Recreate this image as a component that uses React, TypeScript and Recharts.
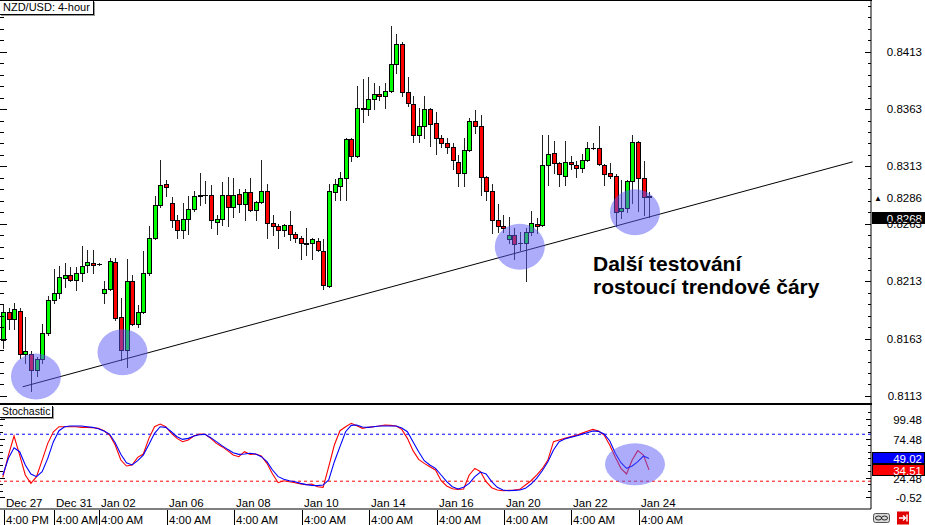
import React from "react";
import { ComposedChart, Bar, Line, XAxis, YAxis, ReferenceLine, ReferenceDot } from "recharts";

// NZD/USD 4-hour candles, Dec 27 4PM .. Jan 24
const opens = [
  0.8162, 0.8186, 0.818, 0.8187, 0.815, 0.815, 0.8136, 0.8145, 0.8168, 0.8197,
  0.8203, 0.8216, 0.8218, 0.8214, 0.822, 0.8227, 0.8229, 0.8228, 0.8203, 0.8206,
  0.823, 0.8182, 0.8153, 0.8213, 0.8176, 0.8186, 0.822, 0.8251, 0.8279, 0.8298,
  0.8281, 0.8266, 0.8258, 0.8267, 0.8276, 0.8287, 0.8288, 0.8288, 0.8265, 0.8267,
  0.8288, 0.8278, 0.8289, 0.828, 0.8291, 0.8275, 0.8282, 0.8292, 0.8264, 0.8261,
  0.8258, 0.8262, 0.8254, 0.8251, 0.8246, 0.8246, 0.8248, 0.8239, 0.8209, 0.8291,
  0.8296, 0.8303, 0.8337, 0.8322, 0.8364, 0.8363, 0.8372, 0.8376, 0.8374, 0.8379,
  0.8402, 0.842, 0.8378, 0.8367, 0.834, 0.8348, 0.8363, 0.8351, 0.8338, 0.8333,
  0.833, 0.8317, 0.8307, 0.8327, 0.8353, 0.8348, 0.8304, 0.8292, 0.8266, 0.8261,
  0.825, 0.8253, 0.8246, 0.8246, 0.8256, 0.8263, 0.8262, 0.8314, 0.8325, 0.8316,
  0.8305, 0.8317, 0.8314, 0.8312, 0.8319, 0.8329, 0.8329, 0.8314, 0.8307, 0.8305,
  0.8274, 0.8277, 0.83, 0.8334, 0.8303, 0.8287,
];
const highs = [
  0.8192, 0.819, 0.8194, 0.819, 0.8182, 0.8152, 0.8147, 0.8176, 0.82, 0.8224,
  0.8226, 0.8229, 0.8225, 0.8225, 0.8244, 0.824, 0.824, 0.8229, 0.8213, 0.8233,
  0.8233, 0.8198, 0.8232, 0.8218, 0.8192, 0.8239, 0.8261, 0.8287, 0.8319, 0.8301,
  0.8286, 0.8271, 0.8281, 0.8287, 0.8292, 0.8307, 0.83, 0.8297, 0.8271, 0.8299,
  0.8304, 0.8303, 0.8293, 0.8293, 0.8303, 0.8283, 0.8319, 0.8298, 0.8271, 0.8263,
  0.8263, 0.8274, 0.8256, 0.8252, 0.8259, 0.8251, 0.8251, 0.825, 0.8298, 0.8302,
  0.8308, 0.8338, 0.8338, 0.8383, 0.8389, 0.8391, 0.8386, 0.8383, 0.8386, 0.8435,
  0.8428, 0.8421, 0.8391, 0.8374, 0.8364, 0.8374, 0.8364, 0.836, 0.834, 0.8338,
  0.8333, 0.8323, 0.8338, 0.8355, 0.8362, 0.8358, 0.8305, 0.8298, 0.828, 0.8271,
  0.8269, 0.8259, 0.8256, 0.8259, 0.8274, 0.8268, 0.834, 0.834, 0.8335, 0.8317,
  0.8335, 0.8322, 0.8318, 0.8324, 0.8334, 0.8333, 0.8348, 0.8315, 0.8316, 0.8306,
  0.8301, 0.8301, 0.834, 0.8335, 0.8318, 0.8291,
];
const lows = [
  0.8155, 0.8171, 0.8171, 0.8146, 0.8142, 0.8117, 0.813, 0.8142, 0.8166, 0.8194,
  0.8198, 0.8208, 0.8213, 0.8205, 0.8213, 0.8221, 0.822, 0.8227, 0.8194, 0.8205,
  0.8179, 0.8144, 0.8138, 0.8175, 0.8173, 0.8185, 0.8218, 0.825, 0.8278, 0.8287,
  0.826, 0.8251, 0.8251, 0.8254, 0.8274, 0.8279, 0.8281, 0.8259, 0.8254, 0.8262,
  0.8261, 0.8269, 0.8273, 0.8266, 0.8274, 0.8266, 0.8281, 0.8251, 0.8253, 0.8242,
  0.8252, 0.8249, 0.8247, 0.8232, 0.8236, 0.8232, 0.8239, 0.8206, 0.8208, 0.8284,
  0.8284, 0.8284, 0.8318, 0.8321, 0.8352, 0.8358, 0.8363, 0.8371, 0.8364, 0.8378,
  0.8394, 0.8374, 0.8366, 0.8334, 0.8334, 0.8338, 0.8331, 0.8324, 0.833, 0.8325,
  0.8311, 0.8296, 0.8296, 0.8326, 0.8342, 0.8288, 0.8284, 0.8255, 0.8256, 0.8256,
  0.8246, 0.8232, 0.824, 0.8213, 0.8253, 0.8255, 0.8261, 0.8297, 0.8307, 0.8296,
  0.8297, 0.8311, 0.8304, 0.8308, 0.8318, 0.8328, 0.8314, 0.8297, 0.8303, 0.8261,
  0.8268, 0.8273, 0.8281, 0.8274, 0.8271, 0.8269,
];
const closes = [
  0.8186, 0.818, 0.8189, 0.815, 0.8152, 0.8136, 0.8145, 0.8168, 0.8197, 0.8203,
  0.8217, 0.8218, 0.8214, 0.822, 0.8226, 0.823, 0.8227, 0.8228, 0.8206, 0.8231,
  0.8181, 0.8153, 0.8213, 0.8176, 0.8186, 0.822, 0.8251, 0.8279, 0.8297, 0.8295,
  0.8266, 0.8258, 0.8267, 0.8276, 0.8287, 0.8288, 0.8288, 0.8266, 0.8267, 0.8288,
  0.8278, 0.8288, 0.828, 0.8291, 0.8275, 0.8282, 0.8292, 0.8264, 0.8261, 0.8258,
  0.8262, 0.8254, 0.8251, 0.8246, 0.8245, 0.825, 0.824, 0.821, 0.8292, 0.8298,
  0.8303, 0.8337, 0.8322, 0.8364, 0.8363, 0.8372, 0.8376, 0.8374, 0.8379, 0.8402,
  0.842, 0.8378, 0.8368, 0.834, 0.8348, 0.8363, 0.835, 0.8338, 0.8333, 0.833,
  0.8319, 0.8307, 0.8327, 0.8353, 0.8348, 0.8304, 0.8292, 0.8266, 0.8261, 0.8259,
  0.8253, 0.8245, 0.8246, 0.8256, 0.8264, 0.8261, 0.8314, 0.8324, 0.8316, 0.8306,
  0.8317, 0.8315, 0.8312, 0.8319, 0.8329, 0.8329, 0.8315, 0.8306, 0.8305, 0.8273,
  0.8277, 0.83, 0.8334, 0.8303, 0.8286, 0.8286,
];

// stochastic main (red) and signal (blue)
const stochK = [
  24.9, 53.4, 77.7, 53.4, 27.9, 17.2, 25.8, 47.0, 68.3, 83.2,
  89.6, 89.6, 89.6, 89.6, 88.8, 88.8, 88.3, 87.5, 84.5, 79.0,
  66.2, 47.0, 39.4, 40.7, 50.5, 54.7, 74.7, 89.6, 93.0, 89.6,
  81.1, 74.7, 70.5, 72.6, 77.7, 80.2, 79.8, 74.7, 68.3, 64.1,
  59.0, 53.4, 51.3, 57.7, 54.3, 54.7, 52.2, 42.8, 29.2, 18.1,
  20.6, 19.4, 18.1, 16.4, 15.6, 16.4, 13.0, 12.2, 38.5, 66.2,
  84.5, 89.6, 93.9, 90.9, 87.5, 88.8, 89.6, 90.5, 91.7, 91.3,
  90.5, 86.2, 74.7, 59.0, 47.9, 42.8, 38.5, 34.3, 20.6, 13.9,
  10.4, 9.6, 10.0, 27.9, 36.4, 32.2, 19.4, 11.7, 8.7, 7.9,
  8.3, 8.7, 9.6, 15.1, 20.6, 27.9, 36.0, 47.0, 70.5, 72.6,
  74.7, 76.8, 78.5, 81.1, 83.7, 86.2, 84.1, 79.0, 66.2, 50.5,
  36.4, 29.2, 47.0, 59.0, 53.4, 34.51,
];
const stochD = [
  27.9, 49.2, 62.8, 57.7, 40.7, 29.2, 25.8, 32.2, 49.2, 70.5,
  84.5, 89.6, 90.5, 90.5, 90.5, 89.6, 88.8, 87.1, 84.1, 80.2,
  69.2, 54.3, 43.6, 40.7, 46.2, 53.4, 67.0, 81.1, 89.6, 88.8,
  83.2, 76.8, 73.4, 74.7, 77.7, 79.4, 79.8, 75.6, 70.5, 65.4,
  60.7, 56.4, 54.3, 54.7, 55.6, 54.7, 51.3, 44.9, 34.3, 25.8,
  22.4, 20.6, 19.4, 17.2, 15.6, 14.7, 14.3, 15.1, 21.5, 44.9,
  64.1, 83.2, 91.3, 91.7, 89.2, 88.8, 89.6, 90.5, 90.5, 90.5,
  90.5, 87.9, 83.2, 70.5, 57.7, 46.2, 40.7, 36.4, 27.9, 19.4,
  13.0, 10.0, 12.2, 17.2, 25.8, 31.7, 29.2, 19.4, 12.2, 8.7,
  7.9, 8.3, 8.7, 10.9, 16.4, 23.6, 33.4, 44.9, 59.8, 70.5,
  73.9, 76.0, 77.7, 79.8, 82.0, 84.1, 83.7, 80.2, 71.7, 55.6,
  43.6, 36.4, 39.4, 44.9, 52.2, 49.02,
];

const tickIdx = [0, 9, 17, 29, 41, 53, 65, 77, 89, 101, 113];
const dateLabels = ["Dec 27", "Dec 31", "Jan 02", "Jan 06", "Jan 08", "Jan 10", "Jan 14", "Jan 16", "Jan 20", "Jan 22", "Jan 24"];
const timeLabels = ["4:00 PM", "4:00 AM", "4:00 AM", "4:00 AM", "4:00 AM", "4:00 AM", "4:00 AM", "4:00 AM", "4:00 AM", "4:00 AM", "4:00 AM"];

const priceLabels = [0.8113, 0.8163, 0.8213, 0.8263, 0.8313, 0.8363, 0.8413];
const priceTicks = [
  0.8113, 0.8123, 0.8133, 0.8143, 0.8153, 0.8163, 0.8173, 0.8183, 0.8193, 0.8203,
  0.8213, 0.8223, 0.8233, 0.8243, 0.8253, 0.8263, 0.8273, 0.8283, 0.8293, 0.8303,
  0.8313, 0.8323, 0.8333, 0.8343, 0.8353, 0.8363, 0.8373, 0.8383, 0.8393, 0.8403,
  0.8413, 0.8423, 0.8433, 0.8443, 0.8453,
];
const stochLabels = [-0.52, 24.48, 74.48, 99.48];
const stochTicks = [-0.52, 7.81, 16.15, 24.48, 32.81, 41.15, 49.48, 57.81, 66.15, 74.48, 82.81, 91.15, 99.48, 107.81];

// trend line and highlight circles (candle index, price)
const trendIdx = [3.54, 151.24];
const trendPrice = [0.8121, 0.8317];
const circleIdx = [5.9, 21.3, 92.0, 112.5];
const circlePrice = [0.813, 0.8151, 0.8243, 0.8273];
const stochCircleIdx = 112.5;
const stochCircleValue = 41.6;
const bidPrice = 0.8286;
const trendNow = 0.8268;

const SLOTS = 155;
const rows = Array.from({ length: SLOTS }, (_, i) => ({
  idx: i,
  o: i < opens.length ? opens[i] : null,
  h: i < highs.length ? highs[i] : null,
  l: i < lows.length ? lows[i] : null,
  c: i < closes.length ? closes[i] : null,
  k: i < stochK.length ? stochK[i] : null,
  d: i < stochD.length ? stochD[i] : null,
}));

const FONT = '"Liberation Sans", Arial, sans-serif';
const CIRCLE_FILL = "rgba(90,90,245,0.5)";

function Candle(props: any) {
  const { x, y, width, height, payload } = props;
  if (!payload || payload.h == null) return <g />;
  const top = Math.min(y, y + height);
  const span = Math.abs(height);
  const range = payload.h - payload.l || 1;
  const py = (v: number) => top + ((payload.h - v) / range) * span;
  const cx = Math.round(x + width / 2) + 0.5;
  const yo = py(payload.o);
  const yc = py(payload.c);
  const bTop = Math.round(Math.min(yo, yc)) + 0.5;
  const bBot = Math.round(Math.max(yo, yc)) + 0.5;
  const fill = payload.c > payload.o ? "#00ff00" : "#ff0000";
  return (
    <g>
      <line x1={cx} x2={cx} y1={Math.round(top)} y2={Math.round(top + span) + 1} stroke="#222" />
      {bBot - bTop < 1 ? (
        <line x1={cx - 2.5} x2={cx + 2.5} y1={bTop} y2={bTop} stroke="#000" />
      ) : (
        <rect x={cx - 2} y={bTop} width={4} height={bBot - bTop} fill={fill} stroke="#000" />
      )}
    </g>
  );
}

function PriceTick(props: any) {
  const { x, y, payload } = props;
  const label = priceLabels.find((l) => Math.abs(l - payload.value) < 1e-6);
  const yy = Math.round(y) + 0.5;
  const len = label != null ? 6 : 3;
  return (
    <g>
      <line x1={x - len} x2={x} y1={yy} y2={yy} stroke="#000" />
      <line x1={0} x2={len + 1} y1={yy} y2={yy} stroke="#000" />
      {label != null && (
        <text x={x + 51} y={y + 4} textAnchor="end" fontSize={11.5} fill="#000">
          {label.toFixed(4)}
        </text>
      )}
    </g>
  );
}

function StochTick(props: any) {
  const { x, y, payload } = props;
  const label = stochLabels.find((l) => Math.abs(l - payload.value) < 1e-6);
  const yy = Math.round(y) + 0.5;
  const len = label != null ? 5 : 3;
  return (
    <g>
      <line x1={x - len} x2={x} y1={yy} y2={yy} stroke="#000" />
      <line x1={0} x2={len} y1={yy} y2={yy} stroke="#000" />
      {label != null && (
        <text x={x + 51} y={y + 5} textAnchor="end" fontSize={11.5} fill="#000">
          {label.toFixed(2)}
        </text>
      )}
    </g>
  );
}

function TimeTick(props: any) {
  const { x, y, payload } = props;
  const k = tickIdx.indexOf(payload.value);
  if (k < 0) return <g />;
  const sx = Math.round(x + 1) + 0.5;
  return (
    <g>
      <line x1={sx} x2={sx} y1={y + 1} y2={y + 16} stroke="#000" />
      <text x={sx + 1.5} y={y - 2} fontSize={11.5} fill="#000">{dateLabels[k]}</text>
      <text x={sx + 1.5} y={y + 14.5} fontSize={11.5} fill="#000">{timeLabels[k]}</text>
    </g>
  );
}

const tag = (text: string, bg: string, fg: string, arrow: boolean) => (props: any) => {
  const vb = props.viewBox || {};
  const x = (vb.x || 0) + (vb.width || 0);
  const y = Math.round(vb.y || 0);
  return (
    <g>
      <rect x={x + 1.5} y={y - 5.5} width={52} height={11} fill={bg} stroke={bg === "#fff" ? "none" : "#000"} />
      {arrow && (
        <text x={x + 3} y={y + 3.5} fontSize={8} fill="#000">▲</text>
      )}
      <text x={x + 51} y={y + 4.5} textAnchor="end" fontSize={11.5} fill={fg}>{text}</text>
    </g>
  );
};

const ellipse = (rx: number, ry: number) => (p: any) => (
  <ellipse cx={p.cx} cy={p.cy} rx={rx} ry={ry} fill={CIRCLE_FILL} />
);

export default function App() {
  const lastK = stochK[stochK.length - 1];
  const lastD = stochD[stochD.length - 1];
  return (
    <div style={{ position: "absolute", left: 0, top: 0, width: 925, height: 525, background: "#fff", overflow: "hidden", fontFamily: FONT }}>
      <div style={{ position: "absolute", left: 0, top: 0 }}>
        <ComposedChart width={925} height={404} data={rows} margin={{ top: 0, right: 0, bottom: 0, left: 0 }} barCategoryGap={0}>
          <XAxis xAxisId="cat" dataKey="idx" type="category" scale="band" hide />
          <XAxis xAxisId="num" dataKey="idx" type="number" domain={[-0.5, 154.5]} allowDataOverflow hide />
          <YAxis
            yAxisId="p"
            orientation="right"
            width={54}
            type="number"
            domain={[0.8106, 0.8458]}
            allowDataOverflow
            ticks={priceTicks}
            interval={0}
            tick={(p: any) => <PriceTick {...p} />}
            tickLine={false}
            tickSize={0}
            tickMargin={0}
            axisLine={{ stroke: "#000" }}
          />
          <Bar
            xAxisId="cat"
            yAxisId="p"
            dataKey={(r: any) => (r.h == null ? null : [r.l, r.h])}
            shape={(p: any) => <Candle {...p} />}
            isAnimationActive={false}
          />
          <ReferenceLine
            xAxisId="num"
            yAxisId="p"
            segment={[
              { x: trendIdx[0], y: trendPrice[0] },
              { x: trendIdx[1], y: trendPrice[1] },
            ]}
            stroke="#000"
            strokeWidth={1}
            ifOverflow="visible"
          />
          {circleIdx.map((cx, i) => (
            <ReferenceDot key={i} xAxisId="num" yAxisId="p" x={cx} y={circlePrice[i]} r={24} shape={ellipse(25, 23)} />
          ))}
          <ReferenceLine xAxisId="num" yAxisId="p" y={bidPrice} stroke="none" label={tag(bidPrice.toFixed(4), "#fff", "#000", true)} />
          <ReferenceLine xAxisId="num" yAxisId="p" y={trendNow} stroke="none" label={tag(trendNow.toFixed(4), "#000", "#fff", false)} />
        </ComposedChart>
      </div>

      <div style={{ position: "absolute", left: 0, top: 404 }}>
        <ComposedChart width={925} height={121} data={rows} margin={{ top: 0, right: 0, bottom: 0, left: 0 }}>
          <XAxis
            xAxisId="cat"
            dataKey="idx"
            type="category"
            scale="band"
            height={16}
            ticks={tickIdx}
            interval={0}
            tick={(p: any) => <TimeTick {...p} />}
            tickLine={false}
            tickSize={0}
            tickMargin={0}
            axisLine={{ stroke: "#000" }}
          />
          <XAxis xAxisId="num" dataKey="idx" type="number" domain={[-0.5, 154.5]} allowDataOverflow hide />
          <YAxis
            yAxisId="s"
            orientation="right"
            width={54}
            type="number"
            domain={[-15.5, 118.6]}
            allowDataOverflow
            ticks={stochTicks}
            interval={0}
            tick={(p: any) => <StochTick {...p} />}
            tickLine={false}
            tickSize={0}
            tickMargin={0}
            axisLine={{ stroke: "#000" }}
          />
          <ReferenceLine xAxisId="num" yAxisId="s" y={80} stroke="#0000ff" strokeDasharray="3 3" />
          <ReferenceLine xAxisId="num" yAxisId="s" y={20} stroke="#ff0000" strokeDasharray="3 3" />
          <Line xAxisId="cat" yAxisId="s" dataKey="k" stroke="#ff0000" strokeWidth={1.1} dot={false} isAnimationActive={false} />
          <Line xAxisId="cat" yAxisId="s" dataKey="d" stroke="#0000ff" strokeWidth={1.1} dot={false} isAnimationActive={false} />
          <ReferenceDot xAxisId="num" yAxisId="s" x={stochCircleIdx} y={stochCircleValue} r={20} shape={ellipse(30, 21)} />
          <ReferenceLine xAxisId="num" yAxisId="s" y={lastD} stroke="none" label={tag(lastD.toFixed(2), "#0000ff", "#fff", false)} />
          <ReferenceLine xAxisId="num" yAxisId="s" y={lastK} stroke="none" label={tag(lastK.toFixed(2), "#ff0000", "#fff", false)} />
        </ComposedChart>
      </div>

      {/* panel frames */}
      <div style={{ position: "absolute", left: 0, top: 0, width: 872, height: 1, background: "#000" }} />
      <div style={{ position: "absolute", left: 0, top: 403, width: 872, height: 2, background: "#000" }} />

      <div
        style={{
          position: "absolute", left: 0, top: 1, height: 13, padding: "0 3px", fontSize: 11, lineHeight: "13px",
          background: "#fff", borderRight: "1px solid #000", borderBottom: "1px solid #000", boxShadow: "1px 1px 0 #9a9a9a", color: "#000",
        }}
      >
        NZD/USD: 4-hour
      </div>
      <div
        style={{
          position: "absolute", left: 0, top: 406, height: 11, padding: "0 2px", fontSize: 10.5, lineHeight: "11px",
          background: "#fff", borderRight: "1px solid #000", borderBottom: "1px solid #000", boxShadow: "1px 1px 0 #9a9a9a", color: "#000",
        }}
      >
        Stochastic
      </div>

      <div style={{ position: "absolute", left: 593, top: 252, fontSize: 21, fontWeight: "bold", lineHeight: "23px", color: "#000", whiteSpace: "nowrap" }}>
        Další testování
        <br />
        rostoucí trendové čáry
      </div>

      <svg style={{ position: "absolute", left: 872, top: 511 }} width={40} height={14}>
        <rect x={1.5} y={2.5} width={16} height={9} rx={2} fill="#d8d8d8" stroke="#555" />
        <ellipse cx={6.5} cy={7} rx={3} ry={2} fill="none" stroke="#222" />
        <ellipse cx={12.5} cy={7} rx={3} ry={2} fill="none" stroke="#222" />
        <rect x={25} y={0.5} width={12} height={13} fill="#e00000" />
        <path d="M27 7 H33 M31 4.5 L33.5 7 L31 9.5 M35 3.5 V10.5" stroke="#fff" strokeWidth={1.4} fill="none" />
      </svg>
    </div>
  );
}
